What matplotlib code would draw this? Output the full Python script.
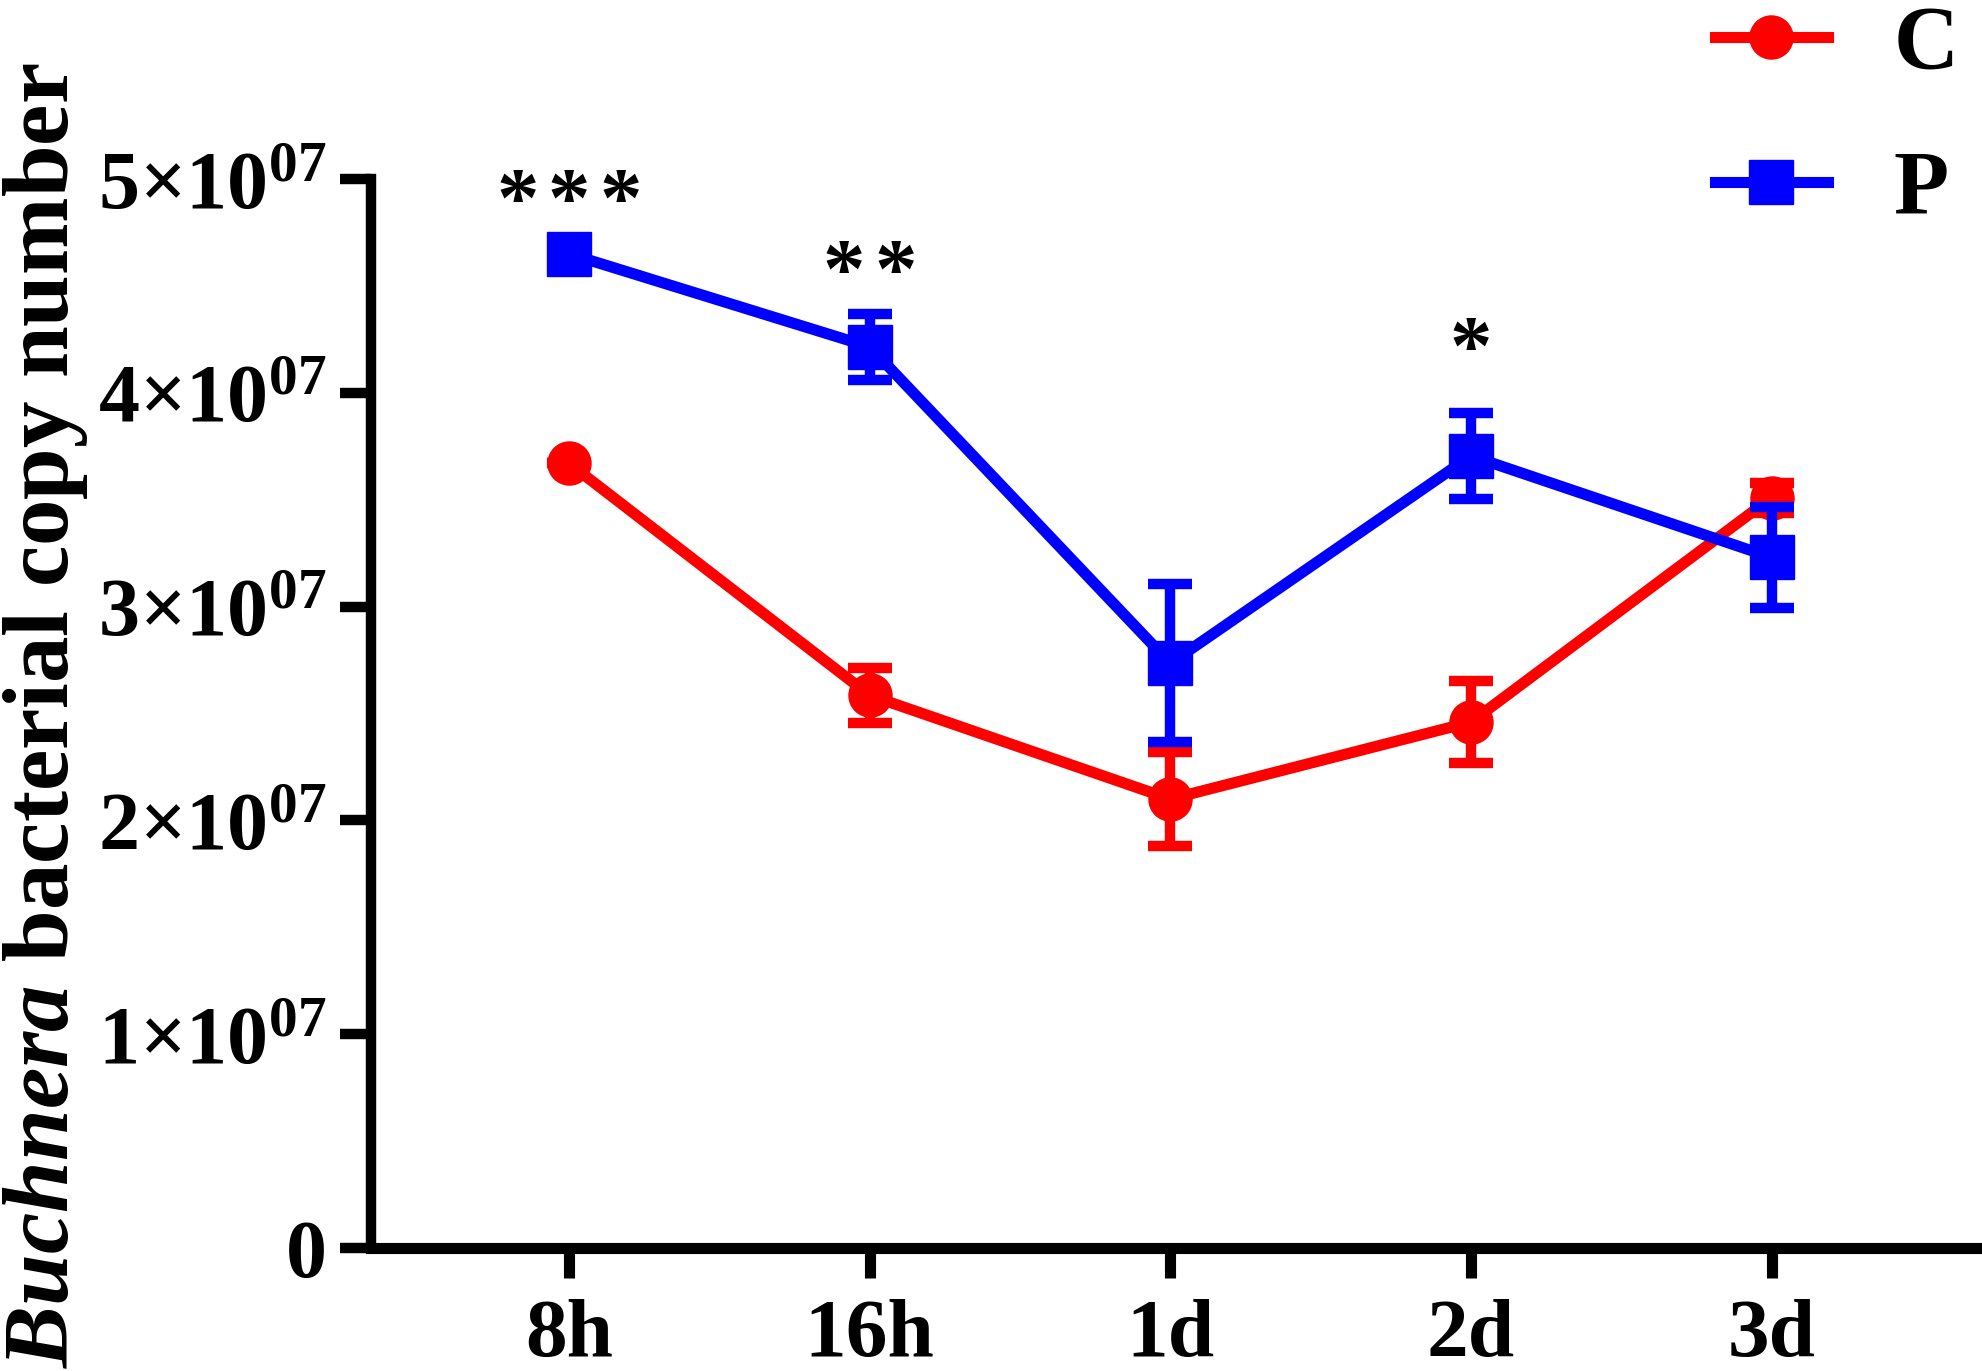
import numpy as np
import matplotlib
matplotlib.use("Agg")
import matplotlib.pyplot as plt

plt.rcParams["font.family"] = ["Liberation Serif", "DejaVu Serif"]
plt.rcParams["font.weight"] = "bold"
plt.rcParams["mathtext.fontset"] = "custom"
plt.rcParams["mathtext.default"] = "regular"
plt.rcParams["mathtext.it"] = "Liberation Serif:italic:bold"
plt.rcParams["mathtext.rm"] = "Liberation Serif:bold"
plt.rcParams["mathtext.bf"] = "Liberation Serif:bold"

# ---- data ----
timepoints = ["8h", "16h", "1d", "2d", "3d"]
c_mean = [3.67e7, 2.585e7, 2.10e7, 2.46e7, 3.51e7]
c_err = [0.0, 0.13e7, 0.22e7, 0.19e7, 0.07e7]
p_mean = [4.65e7, 4.215e7, 2.735e7, 3.705e7, 3.23e7]
p_err = [0.0, 0.155e7, 0.37e7, 0.20e7, 0.235e7]
sig_stars = [3, 2, 0, 1, 0]
sig_y = [4.78e7, 4.45e7, np.nan, 4.09e7, np.nan]
yticks = [0, 1e7, 2e7, 3e7, 4e7, 5e7]
ytick_labels = ["0", "1×$10^{07}$", "2×$10^{07}$", "3×$10^{07}$",
                "4×$10^{07}$", "5×$10^{07}$"]

RED = "#FF0000"
BLUE = "#0000FF"

fig = plt.figure(figsize=(19.83, 13.71), dpi=100)
ax = fig.add_axes([0.1871, 0.0897, 0.998 - 0.1871, 0.8694 - 0.0897])
x = np.arange(len(timepoints))

handles = []
for mean, err, color, marker, label, z in [
        (c_mean, c_err, RED, "o", "C", 2),
        (p_mean, p_err, BLUE, "s", "P", 4)]:
    ax.errorbar(x, mean, yerr=err, fmt="none", ecolor=color, elinewidth=7.5,
                capsize=15.5, capthick=7.5, zorder=z, clip_on=False)
    h, = ax.plot(x, mean, color=color, lw=8, marker=marker, ms=31,
                 mec=color, mfc=color, label=label, zorder=z + 0.5,
                 clip_on=False)
    handles.append(h)

# significance asterisks
for i, (n, yv) in enumerate(zip(sig_stars, sig_y)):
    for k in range(n):
        off = (k - (n - 1) / 2) * 37
        ax.annotate("*", xy=(x[i], yv), xytext=(off, 0),
                    textcoords="offset points", ha="center", va="baseline",
                    fontsize=61, fontweight="bold", annotation_clip=False)

ax.set_xlim(-0.659, 4.69)
ax.set_ylim(0, 5e7)
ax.set_xticks(x)
ax.set_xticklabels(timepoints)
ax.set_yticks(yticks)
ax.set_yticklabels(ytick_labels)

for s in ["top", "right"]:
    ax.spines[s].set_visible(False)
ax.spines["left"].set_linewidth(7.5)
ax.spines["bottom"].set_linewidth(8)
ax.tick_params(axis="y", length=22, width=7.5, pad=10, labelsize=59)
ax.tick_params(axis="x", length=21.6, width=8, pad=15, labelsize=60)
for lab in ax.get_xticklabels() + ax.get_yticklabels():
    lab.set_fontweight("bold")

fig.text(0.0228, 0.478, r"$\mathit{Buchnera}$ bacterial copy number",
         rotation=90, ha="center", va="center", fontsize=67,
         fontweight="bold")

fig.legend(handles, ["C", "P"], loc="upper left",
           bbox_to_anchor=(0.8648, 0.9964), frameon=False,
           prop={"family": "Liberation Serif", "weight": "bold", "size": 65},
           handlelength=1.25, handletextpad=0.73, labelspacing=0.7,
           borderpad=0, borderaxespad=0, numpoints=1)

fig.savefig("out.png", dpi=100)
